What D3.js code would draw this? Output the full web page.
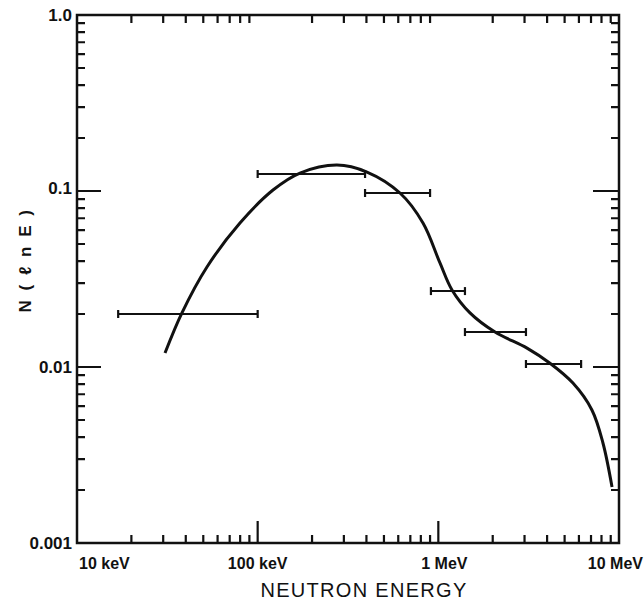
<!DOCTYPE html>
<html><head><meta charset="utf-8">
<script src="https://cdn.jsdelivr.net/npm/d3@7"></script>
<style>
html,body{margin:0;padding:0;background:#fff;}
svg{display:block;}
text{font-family:"Liberation Sans",Arial,sans-serif;fill:#111;}
</style></head>
<body>
<svg id="chart" width="644" height="607"></svg>
<script>
// ---- data ----
const xTickValues = [10, 100, 1000, 10000];          // keV
const xTickLabels = ["10 keV", "100 keV", "1 MeV", "10 MeV"];
const yTickValues = [0.001, 0.01, 0.1, 1];
const yTickLabels = ["0.001", "0.01", "0.1", "1.0"];
const xMinorValues = [20,30,40,50,60,70,80,90,200,300,400,500,600,700,800,900,2000,3000,4000,5000,6000,7000,8000,9000];
const yMinorValues = [0.002,0.003,0.004,0.005,0.006,0.007,0.008,0.009,0.02,0.03,0.04,0.05,0.06,0.07,0.08,0.09,0.2,0.3,0.4,0.5,0.6,0.7,0.8,0.9];
const xTitle = "NEUTRON ENERGY";
const yTitle = "N ( \u2113 n E )";

// smooth spectrum curve (energy keV, N)
const curveE = [30.7, 38.1, 52.4, 79.8, 121.6, 171.5, 274.8, 402.8, 613.4, 822.5, 1021, 1190, 1497, 2060, 3097, 4150, 5560, 7080, 8150, 9150];
const curveN = [0.0120, 0.0203, 0.0370, 0.0658, 0.1013, 0.1265, 0.1405, 0.1282, 0.0974, 0.0658, 0.0390, 0.0274, 0.0203, 0.0158, 0.0128, 0.0105, 0.0081, 0.0057, 0.0037, 0.00208];

// measured bins (horizontal bars)
const binLo = [16.9, 100, 393, 910, 1404, 3055];
const binHi = [100, 393, 900, 1404, 3055, 6170];
const binN  = [0.0200, 0.1249, 0.0974, 0.0270, 0.0158, 0.0104];

// ---- layout ----
const L = 77, R = 619, T = 15, B = 543;
const svg = d3.select("#chart");
const x = d3.scaleLog().domain([10, 10000]).range([L, R]);
const y = d3.scaleLog().domain([0.001, 1]).range([B, T]);
const ink = "#111";
const g = svg.append("g");

const minorLen = 8, majorLen = 24;

// frame
g.append("rect").attr("x", L).attr("y", T).attr("width", R - L).attr("height", B - T)
  .attr("fill", "none").attr("stroke", ink).attr("stroke-width", 2.5);

// minor ticks (inward, all four sides)
const tickPath = d3.path();
xMinorValues.forEach(v => {
  const xx = x(v);
  tickPath.moveTo(xx, B); tickPath.lineTo(xx, B - minorLen);
  tickPath.moveTo(xx, T); tickPath.lineTo(xx, T + minorLen);
});
yMinorValues.forEach(v => {
  const yy = y(v);
  tickPath.moveTo(L, yy); tickPath.lineTo(L + minorLen, yy);
  tickPath.moveTo(R, yy); tickPath.lineTo(R - minorLen, yy);
});
// long decade ticks
xTickValues.slice(1, 3).forEach(v => {
  const xx = x(v);
  tickPath.moveTo(xx, B); tickPath.lineTo(xx, B - majorLen + 2);
});
yTickValues.slice(1, 3).forEach(v => {
  const yy = y(v);
  tickPath.moveTo(L, yy); tickPath.lineTo(L + majorLen, yy);
  tickPath.moveTo(R, yy); tickPath.lineTo(R - majorLen - 2, yy);
});
g.append("path").attr("d", tickPath.toString()).attr("fill", "none").attr("stroke", ink).attr("stroke-width", 2.2);

// y tick labels
const yShift = [0, 0, -3, 0];
yTickValues.forEach((v, i) => {
  g.append("text").attr("x", L - 5).attr("y", y(v) + 6 + yShift[i]).attr("text-anchor", "end")
    .attr("font-size", 17).attr("font-weight", "bold").text(yTickLabels[i]);
});
// x tick labels
const xAnchor = ["start", "middle", "middle", "end"];
const xShift = [2, 0, 6, 24];
xTickValues.forEach((v, i) => {
  g.append("text").attr("x", x(v) + xShift[i]).attr("y", 569).attr("text-anchor", xAnchor[i])
    .attr("font-size", 16).attr("font-weight", "bold").text(xTickLabels[i]);
});
// titles
g.append("text").attr("x", 364).attr("y", 597).attr("text-anchor", "middle")
  .attr("font-size", 20).attr("letter-spacing", 1.3).text(xTitle);
g.append("text").attr("transform", "translate(31,260) rotate(-90)").attr("text-anchor", "middle")
  .attr("font-size", 17).attr("font-weight", "bold").attr("letter-spacing", 2.5).text(yTitle);

// bins
const capH = 4;
binN.forEach((v, i) => {
  const x0 = x(binLo[i]), x1 = x(binHi[i]), yy = y(v);
  g.append("line").attr("x1", x0).attr("x2", x1).attr("y1", yy).attr("y2", yy).attr("stroke", ink).attr("stroke-width", 2);
  [x0, x1].forEach(xx => g.append("line").attr("x1", xx).attr("x2", xx).attr("y1", yy - capH).attr("y2", yy + capH).attr("stroke", ink).attr("stroke-width", 2.2));
});

// curve
const pts = curveE.map((e, i) => [e, curveN[i]]);
const line = d3.line().x(d => x(d[0])).y(d => y(d[1])).curve(d3.curveCatmullRom.alpha(0.5));
g.append("path").attr("d", line(pts)).attr("fill", "none").attr("stroke", ink).attr("stroke-width", 3);
</script>
</body></html>
